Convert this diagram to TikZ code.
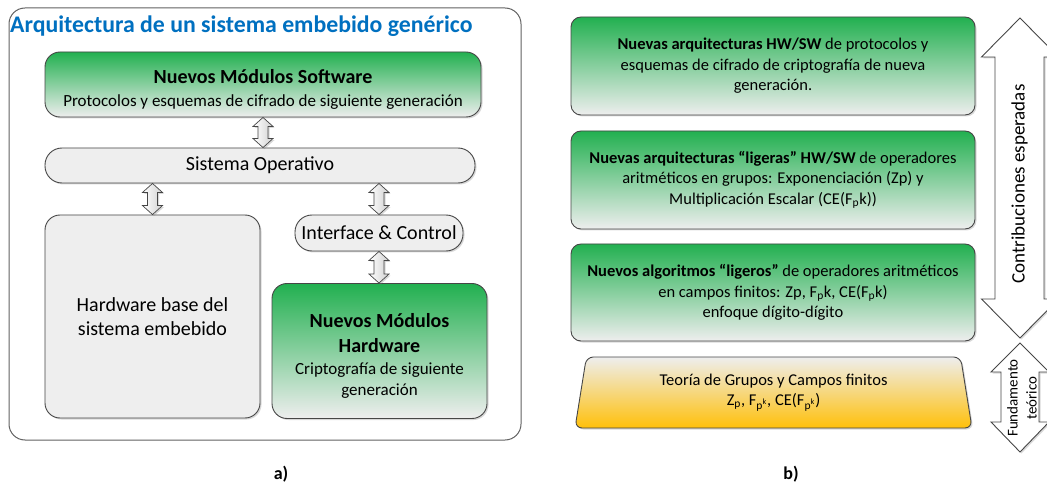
\documentclass[tikz,border=0pt]{standalone}
\usepackage{fontspec}
\setmainfont{Carlito}
\usetikzlibrary{calc}
\usetikzlibrary{positioning}
\usetikzlibrary{shapes.geometric}
\usetikzlibrary{shadows}
\definecolor{mygreen}{RGB}{34,176,80}
\definecolor{mygray}{RGB}{238,238,238}
\definecolor{myorange}{RGB}{255,192,10}
\definecolor{myblue}{RGB}{0,112,192}
\definecolor{myline}{RGB}{70,70,70}
\tikzset{%
  myshadow/.style={drop shadow={opacity=0.3, shadow xshift=1.5pt, shadow yshift=-1.5pt}},
  myframe/.style={draw=myline!85, line width=1pt, rounded corners=16pt, fill=white},
  mybox/.style={draw=myline, line width=0.9pt, rounded corners=15pt, fill=mygray, align=center, inner sep=0pt, myshadow},
  mygreenbox/.style={mybox, top color=mygreen, bottom color=mygray},
  mypill/.style={mybox, rounded corners=17pt, font=\fontsize{20}{24}\selectfont},
  myright/.style={mygreenbox, rounded corners=10pt, minimum width=404pt, font=\fontsize{16.5}{20.5}\selectfont},
  mytrap/.style={trapezium, trapezium left angle=73, trapezium right angle=73, trapezium stretches body,
    draw=myline, line width=0.9pt, rounded corners=7pt, top color=mygray, bottom color=myorange,
    align=center, inner sep=0pt, myshadow, font=\fontsize{16.5}{20}\selectfont},
  mysmallarrow/.style={draw=myline, line width=0.7pt, left color=white, right color=black!18, myshadow},
  mybigarrow/.style={draw=myline, line width=0.9pt, fill=white, myshadow},
  mylabel/.style={font=\fontsize{18}{20}\selectfont\bfseries}
}
\newcommand{\myupdown}[2]{%
  \draw[mysmallarrow] let \p1=(#1), \p2=(#2) in
    (\x1,\y1) -- (\x1+10pt,\y1-9pt) -- (\x1+5pt,\y1-9pt) -- (\x1+5pt,\y2+9pt) -- (\x1+10pt,\y2+9pt)
    -- (\x1,\y2) -- (\x1-10pt,\y2+9pt) -- (\x1-5pt,\y2+9pt) -- (\x1-5pt,\y1-9pt) -- (\x1-10pt,\y1-9pt) -- cycle;
}
\newcommand{\mybig}{\fontsize{20}{22}\selectfont\bfseries}
\newcommand{\mysmall}{\fontsize{17}{22}\selectfont\mdseries}

\begin{document}
\begin{tikzpicture}[x=1pt, y=-1pt]
  \useasboundingbox (0,0) rectangle (1047,489);
  \clip (0,0) rectangle (1047,489);
  % a) arquitectura
  \node[myframe, minimum width=512pt, minimum height=432pt] (frame) at (265,224) {};
  \node[anchor=base west, text=myblue, font=\fontsize{23.8}{26}\selectfont\bfseries, inner sep=0pt] (title) at (10,33)
    {Arquitectura de un sistema embebido genérico};
  \node[mygreenbox, minimum width=436pt, minimum height=65pt, font=\fontsize{20}{22.5}\selectfont] (sw) at (263,84.5)
    {\rule{0pt}{24pt}\mybig Nuevos Módulos Software\\
     \mysmall Protocolos y esquemas de cifrado de siguiente generación};
  \node[mypill, minimum width=430pt, minimum height=35pt] (so) at (260,165.5) {Sistema Operativo};
  \node[mybox, minimum width=215pt, minimum height=203pt, font=\fontsize{20}{24}\selectfont] (hwb) at (152.5,316.5)
    {Hardware base del\\sistema embebido};
  \node[mypill, minimum width=168pt, minimum height=36pt] (ic) at (379,233) {Interface \& Control};
  \node[mygreenbox, minimum width=215pt, minimum height=135pt, font=\fontsize{20}{22}\selectfont] (hwn) at (379.5,351)
    {\rule{0pt}{24pt}\mybig Nuevos Módulos\\[3pt] \mybig Hardware\\
     \mysmall Criptografía de siguiente\\[-1pt] \mysmall generación};
  \myupdown{sw.south}{so.north}
  \myupdown{so.south -| hwb.north}{hwb.north}
  \myupdown{so.south -| ic.north}{ic.north}
  \myupdown{ic.south}{hwn.north}
  \node[mylabel] (la) at (281,474) {a)};
  % b) contribuciones
  \node[myright, minimum height=98pt] (b1) at (773,66)
    {\textbf{Nuevas arquitecturas HW/SW} de protocolos y\\
     esquemas de cifrado de criptografía de nueva\\ generación.};
  \node[myright, minimum height=98pt] (b2) at (773,180)
    {\textbf{Nuevas arquitecturas “ligeras” HW/SW} de operadores\\
     aritméticos en grupos: Exponenciación (Zp) y\\
     Multiplicación Escalar (CE(F\textsubscript{p}k))};
  \node[myright, minimum height=97pt] (b3) at (773,292.5)
    {\textbf{Nuevos algoritmos “ligeros”} de operadores aritméticos\\
     en campos finitos: Zp, F\textsubscript{p}k, CE(F\textsubscript{p}k)\\
     enfoque dígito-dígito};
  \node[mytrap, minimum width=397pt, minimum height=71pt] (trap) at (773.5,392.5)
    {Teoría de Grupos y Campos finitos\\
     Z\textsubscript{p}, F\textsubscript{p\textsuperscript{k}}, CE(F\textsubscript{p\textsuperscript{k}})};
  \node[mylabel] (lb) at (791,474) {b)};
  \draw[mybigarrow] (1020,18) -- (1058.5,57) -- (1044,57) -- (1044,299) -- (1058.5,299) -- (1020,338)
    -- (981.5,299) -- (995,299) -- (995,57) -- (981.5,57) -- cycle;
  \node[rotate=90, font=\fontsize{19}{22}\selectfont] (contrib) at (1019.5,184) {Contribuciones esperadas};
  \draw[mybigarrow] (1020,343) -- (1049,372) -- (1039,372) -- (1039,422) -- (1049,422) -- (1020,452)
    -- (991,422) -- (1001,422) -- (1001,372) -- (991,372) -- cycle;
  \node[rotate=90, align=center, font=\fontsize{15}{19}\selectfont] (fund) at (1022,398) {Fundamento\\teórico};
\end{tikzpicture}
\end{document}
